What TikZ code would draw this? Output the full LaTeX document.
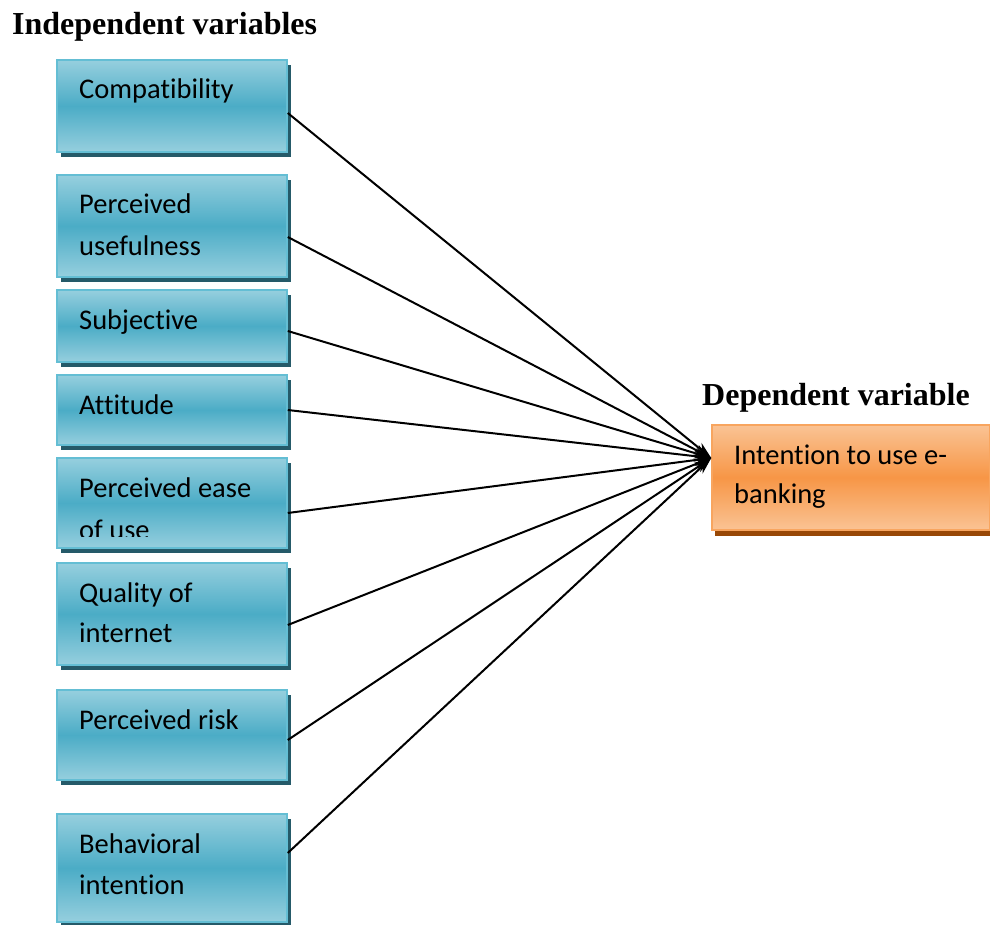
\documentclass[tikz,border=0pt]{standalone}
\usepackage{fontspec}
\usetikzlibrary{arrows.meta,shadows}
\newfontfamily\boxfont[Ligatures=NoCommon]{Carlito}
\newfontfamily\titlefont{Liberation Serif}
\definecolor{tealtop}{RGB}{150,207,222}
\definecolor{tealmid}{RGB}{75,172,198}
\definecolor{tealborder}{RGB}{100,190,212}
\definecolor{tealshadow}{RGB}{37,90,105}
\definecolor{orgtop}{RGB}{250,195,148}
\definecolor{orgmid}{RGB}{247,150,70}
\definecolor{orgborder}{RGB}{248,165,95}
\definecolor{orgshadow}{RGB}{152,72,7}
\tikzset{
  ibox/.style={rectangle, minimum width=230pt, inner sep=0pt, draw=tealborder, line width=1.5pt,
    top color=tealtop, bottom color=tealtop, middle color=tealmid,
    general shadow={fill=tealshadow, shadow xshift=4pt, shadow yshift=-5pt}},
  dbox/.style={rectangle, minimum width=278pt, minimum height=105pt, inner sep=0pt, draw=orgborder, line width=1.5pt,
    top color=orgtop, bottom color=orgtop, middle color=orgmid,
    general shadow={fill=orgshadow, shadow xshift=3pt, shadow yshift=-6pt}},
  btext/.style={anchor=base west, inner sep=0pt, font=\boxfont\fontsize{28.5}{32}\selectfont, text=black},
  ttext/.style={anchor=base west, inner sep=0pt, font=\titlefont\fontsize{32}{38}\selectfont\bfseries},
  conn/.style={line width=2pt, -{Stealth[length=17pt,width=11pt]}}
}
\begin{document}
\begin{tikzpicture}[x=1pt,y=-1pt]
\useasboundingbox (0,0) rectangle (990,925);
\node[ttext] (t1) at (12,35) {Independent variables};
\node[ttext] (t2) at (702,405) {Dependent variable};

\node[ibox, minimum height=92pt] (b1) at (172,106) {};
\node[ibox, minimum height=102pt] (b2) at (172,226) {};
\node[ibox, minimum height=72pt] (b3) at (172,326) {};
\node[ibox, minimum height=70pt] (b4) at (172,410) {};
\node[ibox, minimum height=90pt] (b5) at (172,503) {};
\node[ibox, minimum height=102pt] (b6) at (172,614) {};
\node[ibox, minimum height=90pt] (b7) at (172,735) {};
\node[ibox, minimum height=108pt] (b8) at (172,868) {};
\node[dbox] (tgt) at (851,477.5) {};

\node[btext] (l1) at (79,99) {Compatibility};
\node[btext] (l2a) at (79,214) {Perceived};
\node[btext] (l2b) at (79,256) {usefulness};
\node[btext] (l3) at (79,329) {Subjective};
\node[btext] (l4) at (79,414) {Attitude};
\node[btext] (l5a) at (79,497) {Perceived ease};
\begin{scope}
\clip (57,458) rectangle (287,536);
\node[btext] (l5b) at (79,539) {of use};
\end{scope}
\node[btext] (l6a) at (79,602) {Quality of};
\node[btext] (l6b) at (79,642) {internet};
\node[btext] (l7) at (79,729) {Perceived risk};
\node[btext] (l8a) at (79,853) {Behavioral};
\node[btext] (l8b) at (79,894) {intention};
\node[btext] (d1) at (734,464) {Intention to use e-};
\node[btext] (d2) at (734,503) {banking};

\coordinate (tip) at ([yshift=19.5pt]tgt.west);
\draw[conn] ([yshift=-7pt]b1.east) -- (tip);
\draw[conn] ([yshift=-11pt]b2.east) -- (tip);
\draw[conn] ([yshift=-5pt]b3.east) -- (tip);
\draw[conn] (b4.east) -- (tip);
\draw[conn] ([yshift=-10pt]b5.east) -- (tip);
\draw[conn] ([yshift=-11pt]b6.east) -- (tip);
\draw[conn] ([yshift=-5pt]b7.east) -- (tip);
\draw[conn] ([yshift=15pt]b8.east) -- (tip);
\end{tikzpicture}
\end{document}
